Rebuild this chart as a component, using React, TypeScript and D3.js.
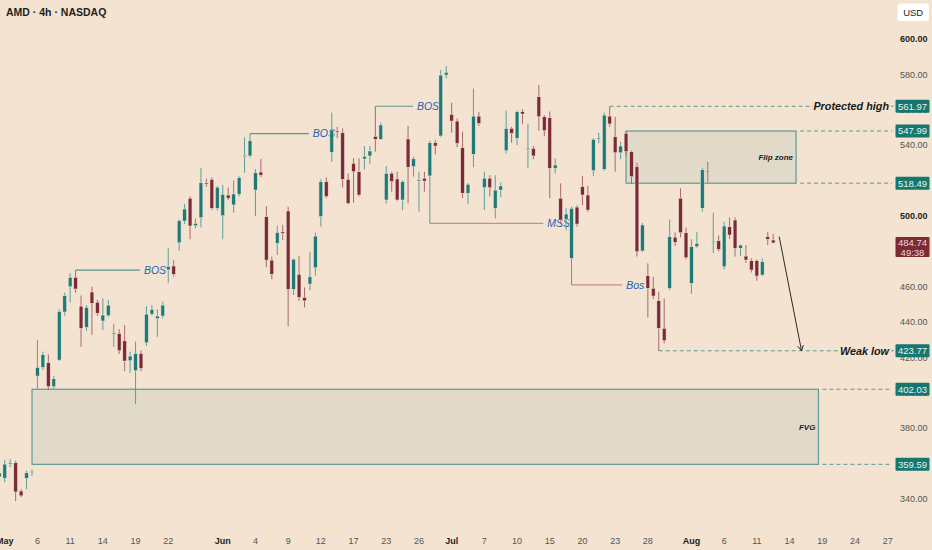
import * as d3 from "d3";

// 4h candles, oldest first (bar index = position in array)
const opens = [
  352.5, 351.7, 360, 360.5, 344.5, 351.7, 355, 409.5, 414.4, 417, 403.5, 418.5, 445.7, 460, 465.3, 449, 437, 457, 451.2, 440.6,
  443.6, 433.4, 433.6, 429.4, 418.2, 412.5, 422.3, 428.3, 444.5, 441.9, 443.4, 469.5, 471.7, 484.8, 497.1, 510, 494.5, 499, 518.6, 520.7,
  504.3, 500.1, 511.8, 506.2, 512.2, 533.7, 533.9, 514.6, 524.8, 499.6, 475, 484.5, 491, 502.8, 458.5, 467, 454, 461.5, 470.7, 499.6,
  519.4, 536, 548, 547, 520.7, 529.7, 525, 532.2, 533.9, 545, 543.3, 509, 524.1, 520.9, 509, 543.5, 527.8, 520, 521.3, 522.6,
  541.4, 545.2, 579.6, 557.4, 553.6, 538.6, 512.8, 534.8, 556.4, 516, 521.3, 504.3, 514.6, 536.9, 549.5, 543.9, 558.9, 538, 538.2, 567.4,
  556.1, 555.5, 526.9, 510, 498.1, 476, 505, 516.6, 511.8, 525.6, 543.8, 526.3, 556.4, 544.8, 535.7, 546.7, 536.3, 527.8, 480.2, 466.2,
  459.1, 452.1, 436.5, 459.1, 488, 510, 490.5, 461.9, 482.6, 504.3, 525.6, 485, 486, 471.3, 493.9, 497.7, 481.7, 477.3, 474.7, 474.7,
  466.6, 488.3, 486.4,
];
const highs = [
  356, 362, 362.5, 361.6, 345.5, 356, 356.5, 430, 423.3, 421.7, 409.5, 447.2, 456.6, 467.6, 469.4, 455, 449.6, 460, 452.5, 453.4,
  452.5, 439, 436, 438.3, 423.3, 429, 424, 449, 449.6, 447.2, 451.5, 481.7, 475, 498, 506.7, 511, 498.6, 527, 521, 521.8,
  517, 517.5, 516, 520, 522.5, 544.4, 546.5, 526.4, 532.2, 505.6, 477, 494.5, 495, 505.2, 476, 477.3, 459.6, 479.8, 490.5, 520.7,
  521.8, 558.4, 550.4, 549.5, 524, 532.6, 532.6, 539.5, 539.5, 562, 552.8, 528.2, 525, 525, 520, 550.8, 533.5, 525, 525, 542.5,
  543, 582.5, 584.7, 564, 555, 547.6, 518.5, 572, 558.6, 525, 523, 523, 518.8, 559.5, 550.4, 559.5, 560.3, 552, 539.5, 574,
  557, 559, 532.6, 518.4, 504.3, 505.2, 506, 522.6, 517, 544, 547, 558.4, 561.97, 556, 542, 547.99, 537, 530, 496, 473.2,
  465.6, 457.2, 453.4, 498, 490.6, 515.6, 493.5, 486.8, 491, 527, 530.6, 501.8, 489, 496.7, 499.2, 499.2, 484, 483.5, 476, 475.5,
  476, 491, 489.8,
];
const lows = [
  351, 349.5, 358, 338.8, 341, 345.5, 353, 402.5, 413, 401.6, 402.5, 418, 443.6, 451, 456.6, 426, 435, 432.7, 443.5, 435.5,
  443, 426, 422, 412.2, 411.3, 393.7, 412.2, 426.5, 443.6, 431.7, 442, 462, 465.7, 480.3, 495.4, 486.8, 493, 493.5, 516.5, 503.3,
  503, 486.8, 509, 501.8, 511, 524.4, 532.9, 500, 522, 471, 464.2, 478, 486.4, 437.4, 455.3, 452, 448.3, 458, 466.2, 494,
  510, 530.6, 544, 516, 506.5, 507.5, 511, 526.3, 529.3, 536.3, 543, 507.1, 513.7, 508.3, 503.3, 507.1, 522.2, 502.4, 513.7, 495.8,
  534.8, 544.5, 577.8, 547, 538.8, 510, 506.7, 527.5, 551, 503.3, 511, 498.6, 510.6, 535.4, 541.4, 540, 552, 527, 532, 548.2,
  545, 510, 524, 496, 492, 461, 494, 506.2, 502.4, 522.6, 541, 525.5, 550.4, 525, 532, 534, 518, 477, 479.5, 442.5,
  453, 423.77, 428, 458, 483, 488, 475.5, 456, 482, 502.4, 519, 479, 480, 469.8, 487, 477, 477.3, 473.5, 468, 463.4,
  466, 483.5, 484.5,
];
const closes = [
  354.7, 359.7, 360.5, 344, 341.8, 354.8, 355.6, 414.4, 421.6, 403.5, 408, 446, 455, 465.3, 458.7, 436.4, 448.3, 450.6, 445, 444,
  449.6, 433.8, 423.8, 418, 420.8, 422.3, 413.8, 444.5, 447.2, 443.4, 449.6, 471.5, 467, 497.3, 503.9, 494.3, 495.8, 518.8, 518, 504.3,
  516.2, 512.2, 510, 512.4, 521.6, 534.2, 542.5, 524.4, 523, 475, 467, 490.7, 490.2, 458.5, 475.5, 454, 452, 465.6, 488.6, 519.4,
  511, 548.6, 547.5, 520.7, 507.1, 525, 511.8, 533.7, 536.7, 543.3, 551.4, 524.1, 519.4, 509, 519.4, 527.5, 532.3, 520.4, 519.7, 541.4,
  539.5, 579.6, 581.2, 553.6, 541, 512.8, 517.9, 556.4, 552.3, 521.3, 516, 514.6, 516.9, 549.5, 546.7, 558.9, 557.6, 538.3, 533.9, 556.1,
  548.2, 526.9, 528.8, 497.7, 501.1, 504.3, 495.4, 511.8, 503.3, 543.3, 544, 557, 552, 535.7, 539.5, 536.3, 522.2, 479.8, 494.9, 459.1,
  454.7, 436.5, 429.5, 488.3, 485.1, 490.5, 476.4, 482.6, 484.5, 526.1, 525.2, 485.6, 481.1, 494.3, 489.2, 481.7, 483.5, 475.1, 469.4, 466,
  474.1, 486.8, 484.74,
];

// time axis labels and the bar each one sits on
const dateLabels = ["May", "6", "11", "14", "19", "22", "Jun", "4", "9", "12", "17", "23", "26", "Jul", "7", "10", "15", "20", "23", "28", "Aug", "6", "11", "14", "19", "24", "27"];
const dateBars = [1, 7, 13, 19, 25, 31, 41, 47, 53, 59, 65, 71, 77, 83, 89, 95, 101, 107, 113, 119, 127, 133, 139, 145, 151, 157, 163];
const monthLabels = ["May", "Jun", "Jul", "Aug"];

const priceTicks = d3.range(340, 601, 20);
const boldTicks = [500, 600];

// structure breaks
const structureLabels = ["BOS", "BOS", "BOS", "MSS", "Bos"];
const structureFrom = [14, 46, 69, 79, 105];
const structureTo = [25.8, 56.8, 75.9, 99.8, 114.3];
const structurePrice = [469.4, 546.5, 562, 495.8, 461];
const structureBull = [true, true, true, false, false];

// zones
const zoneNames = ["FVG", "Flip zone"];
const zoneFrom = [6, 115];
const zoneTo = [150.3, 146.2];
const zoneTop = [402.03, 547.99];
const zoneBottom = [359.59, 518.49];

// named levels
const levelNames = ["Protected high", "Weak low"];
const levelFrom = [112, 121];
const levelPrice = [561.97, 423.77];

const tagPrices = [561.97, 547.99, 518.49, 423.77, 402.03, 359.59];
const lastPrice = 484.74;
const countdown = "49:38";

// projected move arrow: [bar, price]
const arrowStart = [143.1, 488.3];
const arrowEnd = [147.2, 423.77];

const W = 932;
const H = 550;
const BG = "#f3e3d0";
const UP = "#1f7a77";
const DOWN = "#7b2a36";
const UP_WICK = "#5d9e99";
const DOWN_WICK = "#a86a6e";
const LEVEL = "#5b9c96";
const FONT = "'Liberation Sans', Arial, sans-serif";

export default function App() {
  const x = d3.scaleLinear().domain([0, 163]).range([-0.7, 887.65]);
  const y = d3.scaleLinear().domain([340, 600]).range([499, 39]);
  const bodyW = 3.8;
  const axisLeft = 892;

  const head = (x1: number, y1: number, x2: number, y2: number) => {
    const a = Math.atan2(y2 - y1, x2 - x1);
    const l = 6;
    const p1 = [x2 - l * Math.cos(a - 0.5), y2 - l * Math.sin(a - 0.5)];
    const p2 = [x2 - l * Math.cos(a + 0.5), y2 - l * Math.sin(a + 0.5)];
    return `M${p1[0]},${p1[1]}L${x2},${y2}L${p2[0]},${p2[1]}`;
  };

  const ax1 = x(arrowStart[0]);
  const ay1 = y(arrowStart[1]);
  const ax2 = x(arrowEnd[0]);
  const ay2 = y(arrowEnd[1]);

  return (
    <div style={{ position: "fixed", left: 0, top: 0 }}>
      <svg width={W} height={H} style={{ display: "block", fontFamily: FONT }}>
        <rect width={W} height={H} fill={BG} />

        {/* zones */}
        {zoneNames.map((name, i) => {
          const x1 = x(zoneFrom[i]);
          const x2 = x(zoneTo[i]);
          const y1 = y(zoneTop[i]);
          const y2 = y(zoneBottom[i]);
          return (
            <g key={name}>
              <rect x={x1} y={y1} width={x2 - x1} height={y2 - y1} fill="#e2dac8" stroke={LEVEL} strokeWidth={1.2} />
              <line x1={x2 + 4} x2={axisLeft} y1={y1} y2={y1} stroke={LEVEL} strokeDasharray="4 3" />
              <line x1={x2 + 4} x2={axisLeft} y1={y2} y2={y2} stroke={LEVEL} strokeDasharray="4 3" />
              <text x={x2 - 3} y={(y1 + y2) / 2} dy="0.35em" textAnchor="end" fontSize={8}
                fontWeight="bold" fontStyle="italic" fill="#1d1d1d">{name}</text>
            </g>
          );
        })}

        {/* named levels */}
        {levelNames.map((name, i) => {
          const ly = y(levelPrice[i]);
          return (
            <g key={name}>
              <line x1={x(levelFrom[i])} x2={axisLeft + 3} y1={ly} y2={ly} stroke={LEVEL} strokeDasharray="4 3" />
              <rect x={i === 0 ? 813 : 840} y={ly - 8} width={(i === 0 ? 78 : 51)} height={16} fill={BG} />
              <text x={889} y={ly} dy="0.35em" textAnchor="end" fontSize={10.8} fontWeight="bold"
                fontStyle="italic" fill="#1a1a1a">{name}</text>
            </g>
          );
        })}

        {/* structure breaks */}
        {structureLabels.map((label, i) => {
          const ly = y(structurePrice[i]);
          const x2 = x(structureTo[i]);
          return (
            <g key={i}>
              <line x1={x(structureFrom[i])} x2={x2} y1={ly} y2={ly}
                stroke={structureBull[i] ? "#5f948f" : "#cf8a88"} strokeWidth={1.2} />
              <text x={x2 + 4} y={ly} dy="0.35em" fontSize={10.5} fontStyle="italic" fill="#2560b4">{label}</text>
            </g>
          );
        })}

        {/* candles */}
        {opens.map((o, i) => {
          const c = closes[i];
          const up = c >= o;
          const cx = x(i);
          const top = y(Math.max(o, c));
          const h = Math.max(1.2, y(Math.min(o, c)) - top);
          return (
            <g key={i}>
              <line x1={cx} x2={cx} y1={y(highs[i])} y2={y(lows[i])} stroke={up ? UP_WICK : DOWN_WICK} strokeWidth={1} />
              <rect x={cx - bodyW / 2} y={top} width={bodyW} height={h} fill={up ? UP : DOWN}
                stroke="#fbf1e6" strokeWidth={0.6} strokeOpacity={0.8} />
            </g>
          );
        })}

        {/* projection arrow */}
        <line x1={ax1} y1={ay1} x2={ax2} y2={ay2} stroke="#2a2a2a" strokeWidth={1} />
        <path d={head(ax1, ay1, ax2, ay2)} fill="none" stroke="#2a2a2a" strokeWidth={1} />

        {/* price axis */}
        {priceTicks.map((v) => (
          <text key={v} x={927.5} y={y(v)} dy="0.35em" textAnchor="end" fontSize={9}
            fontWeight={boldTicks.includes(v) ? "bold" : "normal"}
            fill={boldTicks.includes(v) ? "#1e1e1e" : "#555"}>{v.toFixed(2)}</text>
        ))}
        {tagPrices.map((v) => (
          <g key={v}>
            <rect x={895.5} y={y(v) - 6.5} width={34} height={13} rx={1} fill="#16776f" />
            <text x={912.5} y={y(v)} dy="0.35em" textAnchor="middle" fontSize={9.5} fill="#e6f2ef">{v.toFixed(2)}</text>
          </g>
        ))}
        <rect x={895.5} y={y(lastPrice) - 6} width={34} height={20} rx={1} fill={DOWN} />
        <text x={912.5} y={y(lastPrice)} dy="0.35em" textAnchor="middle" fontSize={9.5} fill="#f0d6d8">{lastPrice.toFixed(2)}</text>
        <text x={912.5} y={y(lastPrice) + 9.5} dy="0.35em" textAnchor="middle" fontSize={9.5} fill="#f0d6d8">{countdown}</text>

        <rect x={897.5} y={3.5} width={31.5} height={17.5} rx={3} fill="#ffffff" />
        <text x={913.2} y={12.3} dy="0.35em" textAnchor="middle" fontSize={9.5} fill="#222">USD</text>

        {/* time axis */}
        {dateLabels.map((t, i) => {
          const month = monthLabels.includes(t);
          return (
            <text key={i} x={x(dateBars[i])} y={544} textAnchor="middle" fontSize={9}
              fontWeight={month ? "bold" : "normal"} fill={month ? "#1e1e1e" : "#555"}>{t}</text>
          );
        })}

        <text x={6} y={15.5} fontSize={10.5} fontWeight="bold" fill="#1e1e1e">AMD · 4h · NASDAQ</text>
      </svg>
    </div>
  );
}
